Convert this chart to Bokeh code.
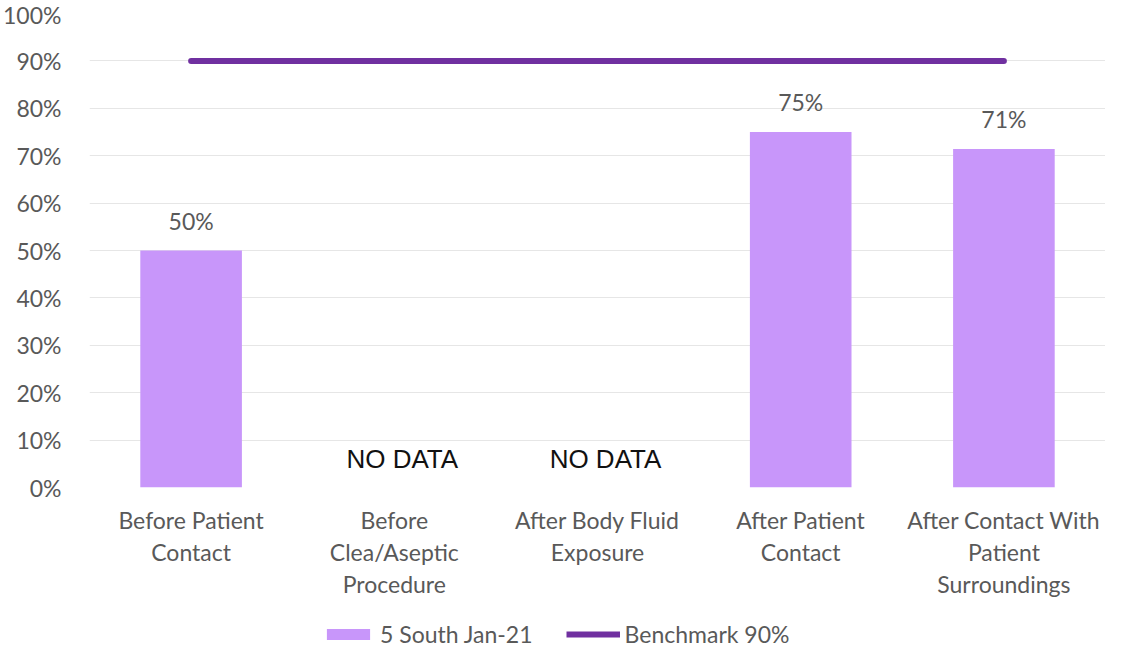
import math
from bokeh.plotting import figure
from bokeh.layouts import column
from bokeh.models import ColumnDataSource, FixedTicker, PrintfTickFormatter, Legend, LegendItem, Range1d
from bokeh.core.properties import value
from bokeh.embed import file_html
from bokeh.resources import INLINE

categories = ["Before Patient\nContact", "Before\nClea/Aseptic\nProcedure", "After Body Fluid\nExposure",
              "After Patient\nContact", "After Contact With\nPatient\nSurroundings"]
values = [50, float("nan"), float("nan"), 75, 71.4]
value_labels = ["50%", "", "", "75%", "71%"]
benchmark = 90
series_name = "5 South Jan-21"
benchmark_name = "Benchmark 90%"
y_ticks = [0, 10, 20, 30, 40, 50, 60, 70, 80, 90, 100]

FONT = "Lato"
GRAY = "#595959"
BAR = "#C896FA"
LINE = "#7030A0"
FS = "23px"

p = figure(x_range=categories, y_range=Range1d(0, 100), width=1105, height=606,
           output_backend="svg", toolbar_location=None,
           min_border_left=77, min_border_right=0, min_border_top=13, min_border_bottom=119)
p.outline_line_color = None
p.background_fill_color = "white"
p.border_fill_color = "white"

have = [(c, v, l) for c, v, l in zip(categories, values, value_labels) if not math.isnan(v)]
missing = [c for c, v in zip(categories, values) if math.isnan(v)]

src = ColumnDataSource(dict(x=[h[0] for h in have], top=[h[1] for h in have], lab=[h[2] for h in have]))
p.vbar(x="x", top="top", width=0.5, source=src, fill_color=BAR, line_color=None)
p.text(x="x", y="top", text="lab", source=src, text_align="center", text_baseline="bottom",
       y_offset=-16, text_font=value(FONT), text_font_size=FS, text_color=GRAY)

nd = ColumnDataSource(dict(x=missing, y=[6] * len(missing), t=["NO DATA"] * len(missing)))
p.text(x="x", y="y", text="t", source=nd, text_align="center", text_baseline="middle",
       x_offset=8, text_font=value("Liberation Sans"), text_font_size="26px", text_color="#111111")

p.line(x=[categories[0], categories[-1]], y=[benchmark, benchmark], line_color=LINE,
       line_width=6, line_cap="round")

p.yaxis.ticker = FixedTicker(ticks=y_ticks)
p.yaxis.formatter = PrintfTickFormatter(format="%d%%")
for ax in (p.xaxis, p.yaxis):
    ax.axis_line_color = None
    ax.major_tick_line_color = None
    ax.minor_tick_line_color = None
    ax.major_label_text_font = FONT
    ax.major_label_text_font_size = FS
    ax.major_label_text_color = GRAY
p.yaxis.major_label_standoff = 22
p.xaxis.major_label_standoff = 12
p.xaxis.major_label_text_line_height = 1.15
p.xgrid.grid_line_color = None
p.ygrid.grid_line_color = "#E6E6E6"
p.ygrid.ticker = FixedTicker(ticks=y_ticks)

# legend strip under the chart (proxy glyphs lie outside its visible range)
lg = figure(width=1105, height=42, x_range=Range1d(0, 1), y_range=Range1d(0, 1),
            output_backend="svg", toolbar_location=None, x_axis_type=None, y_axis_type=None,
            min_border_left=0, min_border_right=0, min_border_top=0, min_border_bottom=0)
lg.outline_line_color = None
lg.grid.visible = False
lg.background_fill_color = "white"
lg.border_fill_color = "white"
r_bar = lg.vbar(x=[-10], top=[-10], width=0.5, fill_color=BAR, line_color=None)
r_line = lg.line(x=[-10, -9], y=[-10, -10], line_color=LINE, line_width=6)
legend = Legend(items=[LegendItem(label=series_name, renderers=[r_bar]),
                       LegendItem(label=benchmark_name, renderers=[r_line])],
                orientation="horizontal", location=(232, 0), border_line_color=None,
                background_fill_alpha=0,
                label_text_font=FONT, label_text_font_size=FS, label_text_color=GRAY,
                glyph_width=54, glyph_height=14, spacing=33, label_standoff=5, padding=0, margin=0)
lg.add_layout(legend, "center")

open("out.html", "w").write(file_html(column(p, lg, spacing=0), INLINE))
